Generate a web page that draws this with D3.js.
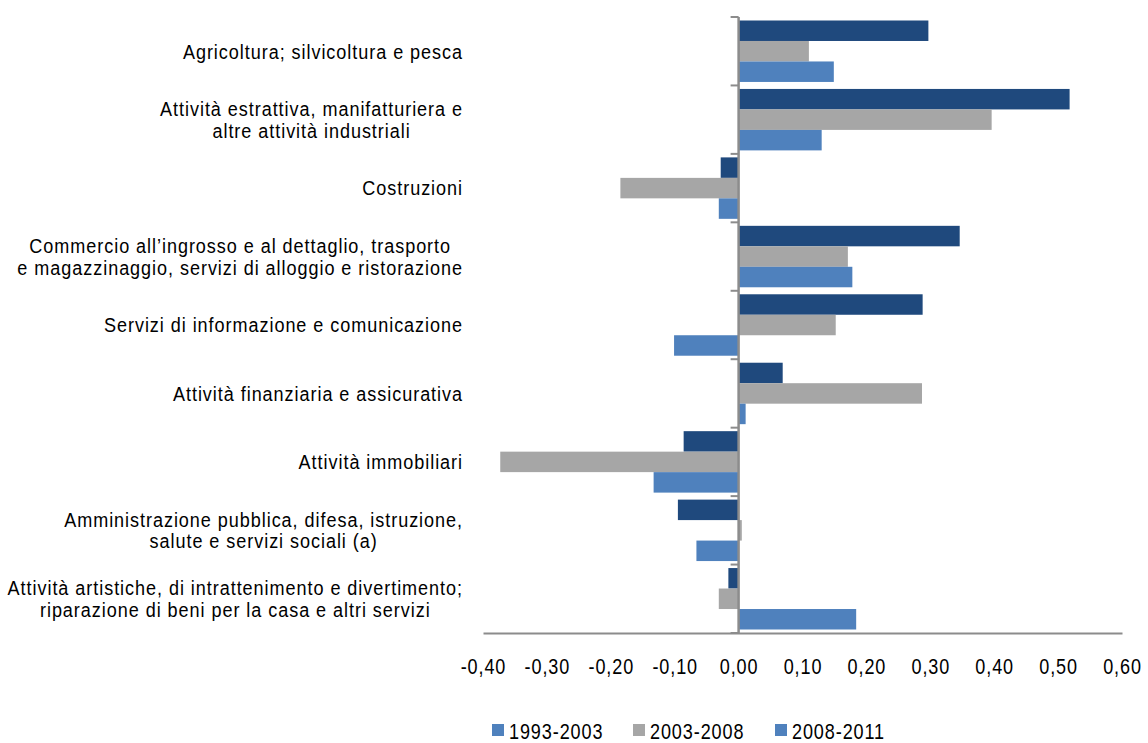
<!DOCTYPE html>
<html>
<head>
<meta charset="utf-8">
<script src="https://cdn.jsdelivr.net/npm/d3@7"></script>
<style>
  html, body { margin: 0; padding: 0; background: #fff; }
  svg { display: block; }
  text { font-family: "Liberation Sans", Arial, sans-serif; fill: #000; }
</style>
</head>
<body>
<svg id="chart" width="1148" height="743"></svg>
<script>
const categories = [
  ["Agricoltura; silvicoltura e pesca"],
  ["Attività estrattiva, manifatturiera e", "altre attività industriali"],
  ["Costruzioni"],
  ["Commercio all\u2019ingrosso e al dettaglio, trasporto", "e magazzinaggio, servizi di alloggio e ristorazione"],
  ["Servizi di informazione e comunicazione"],
  ["Attività finanziaria e assicurativa"],
  ["Attività immobiliari"],
  ["Amministrazione pubblica, difesa, istruzione,", "salute e servizi sociali (a)"],
  ["Attività artistiche, di intrattenimento e divertimento;", "riparazione di beni per la casa e altri servizi"]
];
const seriesNames = ["2008-2011", "2003-2008", "1993-2003"]; // top to bottom within each group
const values2008_2011 = [0.297, 0.518, -0.028, 0.346, 0.288, 0.069, -0.086, -0.095, -0.016];
const values2003_2008 = [0.110, 0.396, -0.185, 0.171, 0.152, 0.287, -0.373, 0.005, -0.031];
const values1993_2003 = [0.149, 0.130, -0.031, 0.178, -0.101, 0.011, -0.133, -0.066, 0.184];
const tickValues = [-0.4, -0.3, -0.2, -0.1, 0, 0.1, 0.2, 0.3, 0.4, 0.5, 0.6];
const legendNames = ["1993-2003", "2003-2008", "2008-2011"];
const legendColors = ["#4F81BD", "#A6A6A6", "#4F81BD"];
const barColors = {"2008-2011": "#1F497D", "2003-2008": "#A6A6A6", "1993-2003": "#4F81BD"};

const seriesValues = {"2008-2011": values2008_2011, "2003-2008": values2003_2008, "1993-2003": values1993_2003};

const FS = 22, SX = 0.82, LS = "1.1px";
const LFS = 21, LSX = 0.86;

const svg = d3.select("#chart");
const x = d3.scaleLinear().domain([-0.4, 0.6]).range([483, 1122]);
const y = d3.scaleBand().domain(d3.range(categories.length)).range([17, 633]).paddingInner(0).paddingOuter(0);
const yi = d3.scaleBand().domain(seriesNames).range([3.5, y.bandwidth() - 3.5]);

// bars
const groups = svg.append("g").selectAll("g").data(categories).join("g")
  .attr("transform", (d, i) => `translate(0,${y(i)})`);
groups.each(function(d, i) {
  d3.select(this).selectAll("rect").data(seriesNames).join("rect")
    .attr("x", s => x(Math.min(0, seriesValues[s][i])))
    .attr("width", s => Math.abs(x(seriesValues[s][i]) - x(0)))
    .attr("y", s => yi(s))
    .attr("height", yi.bandwidth())
    .attr("fill", s => barColors[s]);
});

// horizontal axis
const xAxis = svg.append("g").attr("transform", "translate(0,633)")
  .call(d3.axisBottom(x).tickValues(tickValues).tickSize(0).tickPadding(0)
    .tickFormat(d => d3.format(".2f")(d).replace(".", ",").replace("\u2212", "-")));
xAxis.select(".domain").attr("stroke", "#8C8C8C").attr("stroke-width", 2);
xAxis.selectAll(".tick text")
  .attr("font-size", FS).attr("font-family", null)
  .attr("y", 33).attr("dy", "0.35em")
  .style("letter-spacing", LS)
  .attr("transform", `scale(${SX},1)`);

// vertical axis
const yAxisG = svg.append("g");
yAxisG.append("line").attr("x1", x(0)).attr("x2", x(0)).attr("y1", 17).attr("y2", 633)
  .attr("stroke", "#8C8C8C").attr("stroke-width", 2.5);
yAxisG.selectAll("line.tick").data(d3.range(categories.length + 1)).join("line")
  .attr("class", "tick")
  .attr("x1", x(0) - 8).attr("x2", x(0))
  .attr("y1", i => i < categories.length ? y(i) : 633)
  .attr("y2", i => i < categories.length ? y(i) : 633)
  .attr("stroke", "#8C8C8C").attr("stroke-width", 2);

// category labels
const labelRight = 463;
const lineH = 21.5;
categories.forEach((lines, i) => {
  const cy = y(i) + y.bandwidth() / 2;
  const g = svg.append("g").attr("transform", `translate(${labelRight},0) scale(${LSX},1)`);
  const t = g.append("text").attr("font-size", LFS).attr("text-anchor", "middle")
    .style("letter-spacing", LS);
  lines.forEach((ln, k) => {
    t.append("tspan").attr("x", 0)
      .attr("y", cy + (k - (lines.length - 1) / 2) * lineH)
      .attr("dy", "0.35em").text(ln);
  });
  let maxW = 0;
  t.selectAll("tspan").each(function() { maxW = Math.max(maxW, this.getComputedTextLength()); });
  t.selectAll("tspan").attr("x", -maxW / 2);
});

// legend
const legendX = [492, 633, 775];
const lg = svg.append("g");
legendNames.forEach((n, i) => {
  lg.append("rect").attr("x", legendX[i]).attr("y", 724).attr("width", 12).attr("height", 12).attr("fill", legendColors[i]);
  lg.append("g").attr("transform", `translate(${legendX[i] + 17},0) scale(${SX},1)`)
    .append("text").attr("x", 0).attr("y", 731).attr("dy", "0.35em")
    .attr("font-size", FS).style("letter-spacing", LS).text(n);
});
</script>
</body>
</html>
